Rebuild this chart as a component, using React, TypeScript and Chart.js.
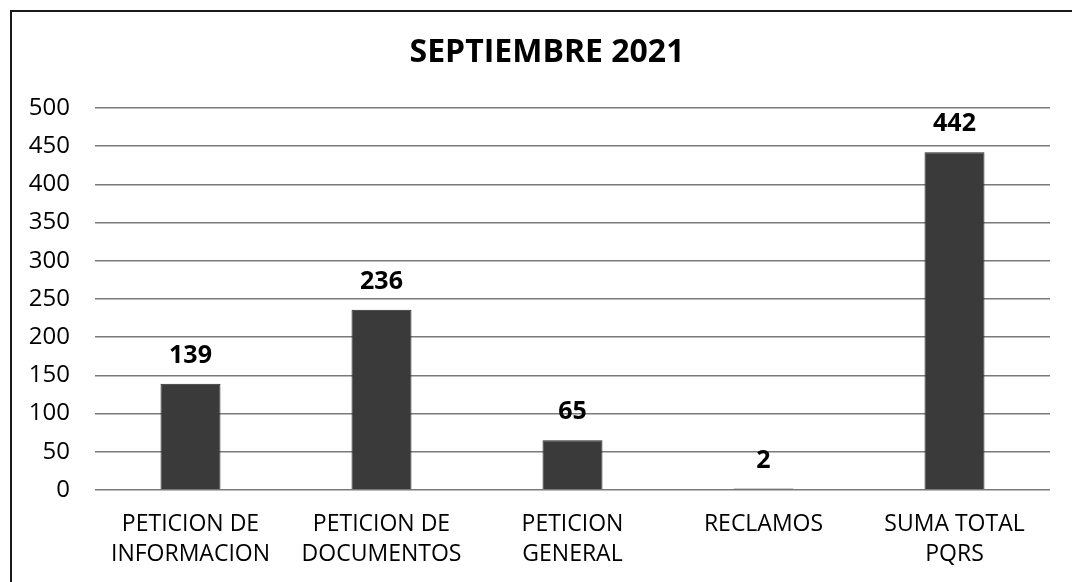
import React, { useEffect, useRef } from "react";
import { Chart, registerables } from "chart.js";

Chart.register(...registerables);

const TITLE = "SEPTIEMBRE 2021";
const categories: string[][] = [
  ["PETICION DE", "INFORMACION"],
  ["PETICION DE", "DOCUMENTOS"],
  ["PETICION", "GENERAL"],
  ["RECLAMOS"],
  ["SUMA TOTAL", "PQRS"],
];
const values: number[] = [139, 236, 65, 2, 442];
const yMin = 0;
const yMax = 500;
const yStep = 50;

const FONT = "'Open Sans', 'Liberation Sans', sans-serif";

const valueLabels = {
  id: "valueLabels",
  afterDatasetsDraw(chart: any) {
    const ctx = chart.ctx;
    const meta = chart.getDatasetMeta(0);
    ctx.save();
    ctx.fillStyle = "#000";
    ctx.font = `bold 25px ${FONT}`;
    ctx.textAlign = "center";
    ctx.textBaseline = "middle";
    meta.data.forEach((bar: any, i: number) => {
      ctx.fillText(String(values[i]), bar.x, bar.y - 28);
    });
    ctx.restore();
  },
};

const titlePlugin = {
  id: "customTitle",
  afterDraw(chart: any) {
    const ctx = chart.ctx;
    ctx.save();
    ctx.fillStyle = "#000";
    ctx.font = `bold 32px ${FONT}`;
    ctx.textAlign = "center";
    ctx.textBaseline = "middle";
    ctx.fillText(TITLE, 547, 53);
    ctx.restore();
  },
};

export default function App() {
  const ref = useRef<HTMLCanvasElement>(null);
  useEffect(() => {
    if (!ref.current) return;
    const chart = new Chart(ref.current, {
      type: "bar",
      data: {
        labels: categories,
        datasets: [
          {
            data: values,
            backgroundColor: "#3a3a3a",
            borderColor: "#262626",
            borderWidth: 1,
            categoryPercentage: 1,
            barPercentage: 0.314,
          },
        ],
      },
      options: {
        responsive: false,
        animation: false,
        layout: { padding: { top: 108, right: 22, bottom: 0, left: 0 } },
        plugins: {
          legend: { display: false },
          title: { display: false },
          tooltip: { enabled: false },
        },
        scales: {
          x: {
            grid: { display: false },
            border: { display: false },
            ticks: {
              color: "#000",
              font: { family: FONT, size: 23, lineHeight: 1.3 },
              padding: 12,
              maxRotation: 0,
              autoSkip: false,
            },
            afterFit: (s: any) => {
              s.height = 92;
            },
          },
          y: {
            min: yMin,
            max: yMax,
            grid: { color: "#7a7a7a", lineWidth: 1.5, drawTicks: false },
            border: { display: false },
            ticks: {
              stepSize: yStep,
              color: "#000",
              font: { family: FONT, size: 24 },
              padding: 25,
            },
            afterFit: (s: any) => {
              s.width = 95;
            },
          },
        },
      },
      plugins: [valueLabels, titlePlugin],
    });
    return () => chart.destroy();
  }, []);

  return (
    <div style={{ position: "absolute", left: 0, top: 0, width: 1072, height: 582, background: "#fff" }}>
      <div
        style={{
          position: "absolute",
          left: 10,
          top: 10,
          width: 1062,
          height: 572,
          borderLeft: "2px solid #1a1a1a",
          borderTop: "2px solid #1a1a1a",
          boxSizing: "border-box",
        }}
      />
      <canvas ref={ref} width={1072} height={582} style={{ position: "absolute", left: 0, top: 0 }} />
    </div>
  );
}
